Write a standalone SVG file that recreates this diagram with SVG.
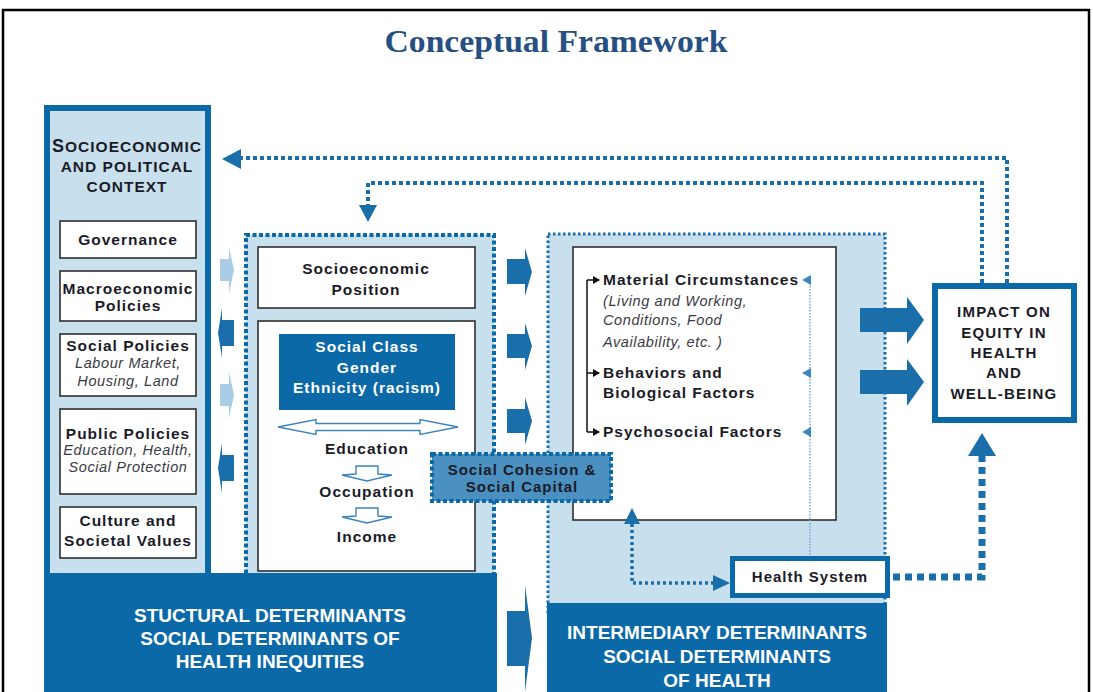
<svg xmlns="http://www.w3.org/2000/svg" width="1093" height="692" viewBox="0 0 1093 692">
<defs>
<style>
.b{font-family:"Liberation Sans",Arial,sans-serif;font-weight:bold;font-size:15.5px;letter-spacing:1px;fill:#1b1b28;text-anchor:middle}
.i{font-family:"Liberation Sans",Arial,sans-serif;font-style:italic;font-size:14.5px;letter-spacing:0.6px;fill:#3a3a44;text-anchor:middle}
.w{fill:#ffffff}
.s{text-anchor:start}
.big{font-family:"Liberation Sans",Arial,sans-serif;font-weight:bold;font-size:19px;fill:#ffffff;text-anchor:middle}
.wb{fill:#ffffff;stroke:#222;stroke-width:1.5}
.dk{fill:#0b69a8}
.arr{fill:#1a6eaa}
.la{fill:#a8cde4}
.fb{fill:none;stroke:#1a6eaa;stroke-width:4;stroke-dasharray:4 3}
.hollow{fill:#ffffff;stroke:#3c83bd;stroke-width:1.4}
.tk{fill:none;stroke:#111;stroke-width:1.5}
</style>
<marker id="tick" markerWidth="8" markerHeight="8" refX="6" refY="4" orient="auto" markerUnits="userSpaceOnUse">
<path d="M0,0 L7,4 L0,8 Z" fill="#111"/>
</marker>
</defs>
<rect x="0" y="0" width="1093" height="692" fill="#ffffff"/>
<rect x="3" y="10" width="1086" height="700" fill="none" stroke="#000" stroke-width="2.5"/>
<text x="556" y="52" font-family="'Liberation Serif',serif" font-weight="bold" font-size="32" fill="#264f82" text-anchor="middle" textLength="343" lengthAdjust="spacingAndGlyphs">Conceptual Framework</text>

<g id="socioeconomic-context">
<rect x="47" y="108" width="161" height="480" fill="#c8e0ed" stroke="#0b69a8" stroke-width="6"/>
<text class="b" x="127" y="152"><tspan font-size="18">S</tspan>OCIOECONOMIC</text>
<text class="b" x="127" y="172">AND POLITICAL</text>
<text class="b" x="127" y="192">CONTEXT</text>
</g>
<g id="governance">
<rect class="wb" x="60" y="221" width="136" height="37"/>
<text class="b" x="128" y="245">Governance</text>
</g>
<g id="macroeconomic">
<rect class="wb" x="60" y="271" width="136" height="50"/>
<text class="b" x="128" y="294">Macroeconomic</text>
<text class="b" x="128" y="311">Policies</text>
</g>
<g id="social-policies">
<rect class="wb" x="60" y="334" width="136" height="62"/>
<text class="b" x="128" y="351">Social Policies</text>
<text class="i" x="128" y="368">Labour Market,</text>
<text class="i" x="128" y="386">Housing, Land</text>
</g>
<g id="public-policies">
<rect class="wb" x="60" y="409" width="136" height="85"/>
<text class="b" x="128" y="439">Public Policies</text>
<text class="i" x="128" y="455">Education, Health,</text>
<text class="i" x="128" y="472">Social Protection</text>
</g>
<g id="culture">
<rect class="wb" x="60" y="507" width="136" height="51"/>
<text class="b" x="128" y="526">Culture and</text>
<text class="b" x="128" y="546">Societal Values</text>
</g>

<g id="structural">
<rect x="246" y="235" width="248" height="360" fill="#c8e0ed" stroke="#0b69a8" stroke-width="4" stroke-dasharray="4 2.5"/>
</g>
<g id="socioeconomic-position">
<rect class="wb" x="258" y="247" width="217" height="61"/>
<text class="b" x="366" y="274">Socioeconomic</text>
<text class="b" x="366" y="295">Position</text>
</g>
<g id="stratifiers">
<rect class="wb" x="258" y="321" width="217" height="250"/>
<rect class="dk" x="279" y="334" width="176" height="76"/>
<text class="b w" x="367" y="352">Social Class</text>
<text class="b w" x="367" y="373">Gender</text>
<text class="b w" x="367" y="393">Ethnicity (racism)</text>
<polygon class="hollow" points="278,427 316,419.5 316,423.5 420,423.5 420,419.5 458,427 420,434.5 420,430.5 316,430.5 316,434.5"/>
<text class="b" x="367" y="454">Education</text>
<polygon class="hollow" points="356,466 378,466 378,474 392,475 367,481 342,475 356,474"/>
<text class="b" x="367" y="497">Occupation</text>
<polygon class="hollow" points="356,508 378,508 378,516 392,517 367,523 342,517 356,516"/>
<text class="b" x="367" y="542">Income</text>
</g>

<g id="intermediary">
<rect x="548" y="234" width="337" height="380" fill="#c8e0ed" stroke="#1a6eaa" stroke-width="3" stroke-dasharray="2.5 2.5"/>
</g>
<g id="intermediary-factors">
<rect class="wb" x="573" y="247" width="263" height="273"/>
<path class="tk" d="M587,280 V432"/>
<path class="tk" d="M587,280 H599" marker-end="url(#tick)"/>
<path class="tk" d="M587,373 H599" marker-end="url(#tick)"/>
<path class="tk" d="M587,432 H599" marker-end="url(#tick)"/>
<text class="b s" x="603" y="285">Material Circumstances</text>
<text class="i s" x="603" y="306">(Living and Working,</text>
<text class="i s" x="603" y="325">Conditions, Food</text>
<text class="i s" x="603" y="347">Availability, etc. )</text>
<text class="b s" x="603" y="378">Behaviors and</text>
<text class="b s" x="603" y="398">Biological Factors</text>
<text class="b s" x="603" y="437">Psychosocial Factors</text>
</g>

<g id="social-cohesion">
<rect x="432" y="454" width="179" height="47" fill="#4a90c0" stroke="#0b69a8" stroke-width="4" stroke-dasharray="4 2.5"/>
<text class="b" x="522" y="475" style="font-size:15px">Social Cohesion &amp;</text>
<text class="b" x="522" y="492" style="font-size:15px">Social Capital</text>
</g>

<g id="health-system">
<rect x="732.5" y="558.5" width="155" height="37" fill="#ffffff" stroke="#0b69a8" stroke-width="5"/>
<text class="b" x="810" y="582" style="font-size:15px">Health System</text>
</g>

<g id="impact">
<rect x="935" y="286" width="139" height="134" fill="#ffffff" stroke="#0b69a8" stroke-width="6"/>
<text class="b" x="1004" y="317" style="font-size:15px;letter-spacing:1.2px">IMPACT ON</text>
<text class="b" x="1004" y="338" style="font-size:15px;letter-spacing:1.2px">EQUITY IN</text>
<text class="b" x="1004" y="358" style="font-size:15px;letter-spacing:1.2px">HEALTH</text>
<text class="b" x="1004" y="378" style="font-size:15px;letter-spacing:1.2px">AND</text>
<text class="b" x="1004" y="399" style="font-size:15px;letter-spacing:1.2px">WELL-BEING</text>
</g>

<g id="structural-label">
<rect class="dk" x="44" y="573" width="453" height="125"/>
<text class="big" x="270" y="622">STUCTURAL DETERMINANTS</text>
<text class="big" x="270" y="645">SOCIAL DETERMINANTS OF</text>
<text class="big" x="270" y="668">HEALTH INEQUITIES</text>
</g>
<g id="intermediary-label">
<rect class="dk" x="547" y="603" width="340" height="95"/>
<text class="big" x="717" y="639">INTERMEDIARY DETERMINANTS</text>
<text class="big" x="717" y="663">SOCIAL DETERMINANTS</text>
<text class="big" x="717" y="687">OF HEALTH</text>
</g>

<g id="connectors">
<polygon class="la" points="220,259 229,259 229,247 234,270 229,293 229,281 220,281"/>
<polygon class="arr" points="234,320 222,320 222,308 218,333 222,358 222,346 234,346"/>
<polygon class="la" points="220,384 229,384 229,372 234,395 229,418 229,406 220,406"/>
<polygon class="arr" points="234,455 222,455 222,443 218,468 222,493 222,481 234,481"/>
<polygon class="arr" points="507,259 525,259 525,248 532,272 525,296 525,284 507,284"/>
<polygon class="arr" points="507,334 525,334 525,323 532,346 525,370 525,358 507,358"/>
<polygon class="arr" points="507,409 525,409 525,397 532,421 525,445 525,433 507,433"/>
<polygon class="arr" points="507,611 525,611 525,585 532,638 525,692 525,666 507,666"/>
<polygon class="arr" points="860,308 907,308 907,297 924,320 907,344 907,332 860,332"/>
<polygon class="arr" points="860,370 907,370 907,359 924,382 907,406 907,394 860,394"/>
<path d="M810,280 V556" fill="none" stroke="#6fa6d6" stroke-width="1.5" stroke-dasharray="1.5 1.5"/>
<polygon points="811,275 802,280 811,285" fill="#3a86c0"/>
<polygon points="811,368 802,373 811,378" fill="#3a86c0"/>
<polygon points="811,427 802,432 811,437" fill="#3a86c0"/>
<path d="M714,583 H632 V524" fill="none" stroke="#1a6eaa" stroke-width="3.5" stroke-dasharray="3 3"/>
<polygon class="arr" points="713,575 730,583 713,591"/>
<polygon class="arr" points="624,524 632,508 640,524"/>
<path d="M893,577 H982 V455" fill="none" stroke="#1a6eaa" stroke-width="7" stroke-dasharray="7 5"/>
<polygon class="arr" points="968,456 982,433 996,456"/>
<path class="fb" d="M1007,283 V158 H240"/>
<polygon class="arr" points="241,149 222,159 241,169"/>
<path class="fb" d="M982,283 V183 H368 V205"/>
<polygon class="arr" points="359,205 368,222 377,205"/>
</g>
</svg>
